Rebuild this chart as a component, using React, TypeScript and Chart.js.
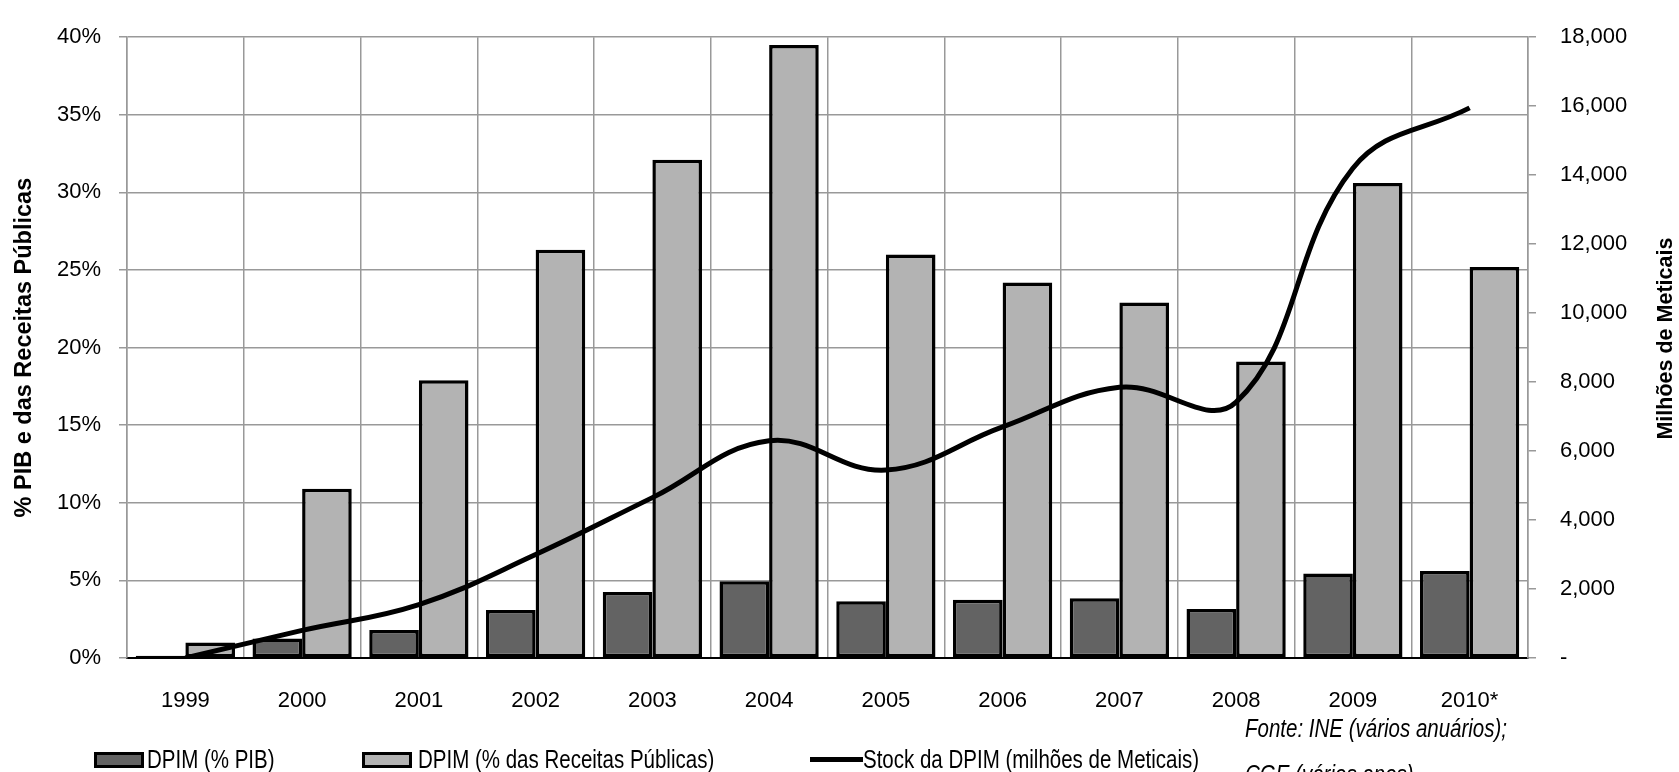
import { useEffect, useRef } from "react";
import { Chart, registerables } from "chart.js";

Chart.register(...registerables);

const categories = ["1999", "2000", "2001", "2002", "2003", "2004", "2005", "2006", "2007", "2008", "2009", "2010*"];
const dpimPib = [0.15, 1.25, 1.8, 3.1, 4.25, 4.95, 3.65, 3.75, 3.85, 3.15, 5.45, 5.6];
const dpimReceitas = [1.0, 10.9, 17.9, 26.3, 32.1, 39.5, 26.0, 24.2, 22.9, 19.1, 30.6, 25.2];
const stockDpim = [0, 800, 1550, 3000, 4650, 6300, 5450, 6700, 7850, 7420, 14200, 15950];

const leftMax = 40;
const leftStep = 5;
const rightMax = 18000;
const rightStep = 2000;

const seriesNames = ["DPIM (% PIB)", "DPIM (% das Receitas Públicas)", "Stock da DPIM (milhões de Meticais)"];
const leftTitle = "% PIB e das Receitas Públicas";
const rightTitle = "Milhões de Meticais";
const sourceLines = ["Fonte: INE (vários anuários);", "CGE (vários anos)"];

const FONT = "'Liberation Sans', Arial, sans-serif";
const DARK = "#636363";
const LIGHT = "#b3b3b3";
const GRID = "#999999";

const rightTitlePlugin = {
  id: "rightTitle",
  afterDraw(chart: any) {
    const ctx = chart.ctx;
    const ca = chart.chartArea;
    const sc = chart.scales.y1;
    ctx.save();
    ctx.translate(sc.right - 13, (ca.top + ca.bottom) / 2 - 9);
    ctx.rotate(-Math.PI / 2);
    ctx.font = `bold 21.5px ${FONT}`;
    ctx.fillStyle = "#000";
    ctx.textAlign = "center";
    ctx.textBaseline = "middle";
    ctx.fillText(rightTitle, 0, 0);
    ctx.restore();
  },
};

export default function App() {
  const canvasRef = useRef<HTMLCanvasElement | null>(null);

  useEffect(() => {
    if (!canvasRef.current) return;
    const chart = new Chart(canvasRef.current, {
      type: "bar",
      data: {
        labels: categories,
        datasets: [
          {
            type: "line",
            label: seriesNames[2],
            data: stockDpim,
            yAxisID: "y1",
            borderColor: "#000",
            borderWidth: 5,
            pointRadius: 0,
            tension: 0.4,
            fill: false,
            order: 0,
          } as any,
          {
            label: seriesNames[0],
            data: dpimPib,
            yAxisID: "y",
            backgroundColor: DARK,
            borderColor: "#000",
            borderWidth: 3.5,
            borderSkipped: false,
            categoryPercentage: 0.85,
            barPercentage: 1.0,
            order: 1,
          },
          {
            label: seriesNames[1],
            data: dpimReceitas,
            yAxisID: "y",
            backgroundColor: LIGHT,
            borderColor: "#000",
            borderWidth: 3.5,
            borderSkipped: false,
            categoryPercentage: 0.85,
            barPercentage: 1.0,
            order: 1,
          },
        ],
      },
      options: {
        animation: false,
        responsive: true,
        maintainAspectRatio: false,
        layout: { padding: { top: 28, left: 0, right: 0, bottom: 0 } },
        plugins: {
          legend: { display: false },
          tooltip: { enabled: false },
        },
        scales: {
          x: {
            offset: true,
            grid: { color: GRID, lineWidth: 1.5, drawTicks: false, offset: true },
            border: { color: "#000", width: 2 },
            ticks: { color: "#000", font: { family: FONT, size: 22 }, padding: 30, maxRotation: 0 },
            afterFit: (s: any) => {
              s.height = 114;
            },
          },
          y: {
            position: "left",
            min: 0,
            max: leftMax,
            ticks: {
              stepSize: leftStep,
              color: "#000",
              font: { family: FONT, size: 22 },
              padding: 18,
              callback: (v: any) => `${v}%`,
            },
            grid: { color: GRID, lineWidth: 1.5, tickLength: 8 },
            border: { color: GRID, width: 1.5 },
            title: {
              display: true,
              text: leftTitle,
              color: "#000",
              font: { family: FONT, size: 23.5, weight: "bold" },
              padding: { top: 10, bottom: 0 },
            },
            afterFit: (s: any) => {
              s.width = 127;
            },
          },
          y1: {
            position: "right",
            min: 0,
            max: rightMax,
            ticks: {
              stepSize: rightStep,
              color: "#000",
              font: { family: FONT, size: 22 },
              padding: 24,
              callback: (v: any) => (v === 0 ? "-" : Number(v).toLocaleString("en-US")),
            },
            grid: { drawOnChartArea: false, color: GRID, lineWidth: 1.5, tickLength: 8 },
            border: { color: GRID, width: 1.5 },
            afterFit: (s: any) => {
              s.width = 151;
            },
          },
        },
      } as any,
      plugins: [rightTitlePlugin],
    });
    return () => chart.destroy();
  }, []);

  const textStyle: any = {
    position: "absolute",
    fontFamily: FONT,
    fontSize: 25,
    lineHeight: "30px",
    color: "#000",
    whiteSpace: "nowrap",
    transform: "scaleX(0.82)",
    transformOrigin: "0 50%",
  };
  const boxStyle = (bg: string): any => ({
    position: "absolute",
    width: 50,
    height: 16,
    boxSizing: "border-box",
    border: "3px solid #000",
    background: bg,
  });

  return (
    <div style={{ position: "absolute", left: 0, top: 0, width: 1679, height: 772, background: "#fff", overflow: "hidden" }}>
      <canvas ref={canvasRef} />
      <div style={{ ...boxStyle(DARK), left: 94, top: 752 }} />
      <div style={{ ...textStyle, left: 147, top: 744 }}>{seriesNames[0]}</div>
      <div style={{ ...boxStyle(LIGHT), left: 362, top: 752 }} />
      <div style={{ ...textStyle, left: 418, top: 744 }}>{seriesNames[1]}</div>
      <div style={{ position: "absolute", left: 810, top: 757, width: 53, height: 5, background: "#000" }} />
      <div style={{ ...textStyle, left: 863, top: 744 }}>{seriesNames[2]}</div>
      <div style={{ ...textStyle, left: 1245, top: 713, fontStyle: "italic" }}>{sourceLines[0]}</div>
      <div style={{ ...textStyle, left: 1245, top: 759, fontStyle: "italic" }}>{sourceLines[1]}</div>
    </div>
  );
}
